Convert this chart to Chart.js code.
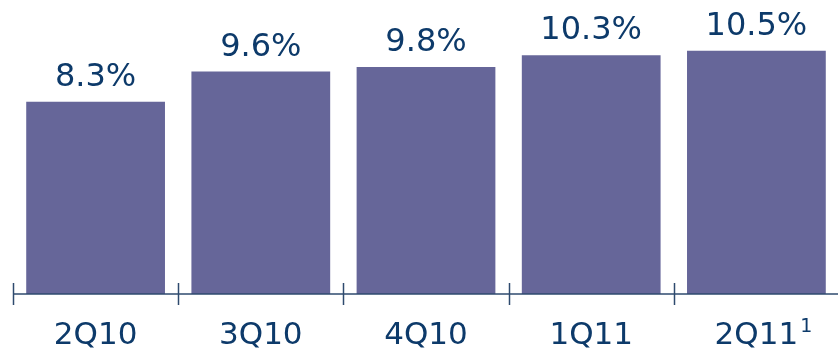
<!DOCTYPE html>
<html><head><meta charset="utf-8">
<script src="https://cdn.jsdelivr.net/npm/chart.js@4"></script>
<style>html,body{margin:0;padding:0;overflow:hidden;background:#fff}#wrap{width:850px;height:352px}</style>
</head><body><div id="wrap"><canvas id="c" width="850" height="352"></canvas></div>
<script>
const categories = ['2Q10', '3Q10', '4Q10', '1Q11', '2Q11'];
const superscripts = ['', '', '', '', '1'];
const values = [8.3, 9.6, 9.8, 10.3, 10.5];
const valueLabels = ['8.3%', '9.6%', '9.8%', '10.3%', '10.5%'];

const FONT = '"DejaVu Sans", Verdana, sans-serif';
const TEXT = '#0d3a6a';
const AXIS = '#2e4a6e';

const deco = {
  id: 'deco',
  afterDatasetsDraw(chart) {
    const ctx = chart.ctx, xs = chart.scales.x, area = chart.chartArea;
    const meta = chart.getDatasetMeta(0);
    ctx.save();
    // value labels
    ctx.fillStyle = TEXT;
    ctx.font = '32px ' + FONT;
    ctx.textAlign = 'center';
    ctx.textBaseline = 'alphabetic';
    meta.data.forEach((bar, i) => {
      ctx.fillText(valueLabels[i], bar.x, bar.y - 16);
    });
    // axis line
    const y0 = area.bottom;
    ctx.strokeStyle = AXIS;
    ctx.lineWidth = 1.5;
    ctx.beginPath();
    ctx.moveTo(area.left, y0);
    ctx.lineTo(area.right, y0);
    ctx.stroke();
    // ticks between categories
    const step = xs.getPixelForValue(1) - xs.getPixelForValue(0);
    for (let i = 0; i <= categories.length; i++) {
      const x = Math.round(xs.getPixelForValue(i) - step / 2) + 0.5;
      ctx.beginPath();
      ctx.moveTo(x, y0 - 11);
      ctx.lineTo(x, y0 + 11);
      ctx.stroke();
    }
    // category labels
    const catFont = '31px ' + FONT;
    ctx.font = catFont;
    categories.forEach((c, i) => {
      const x = xs.getPixelForValue(i);
      ctx.textAlign = 'center';
      ctx.fillText(c, x, 344);
      if (superscripts[i]) {
        const w = ctx.measureText(c).width;
        ctx.font = '19px ' + FONT;
        ctx.textAlign = 'left';
        ctx.fillText(superscripts[i], x + w / 2 + 2, 332);
        ctx.font = catFont;
      }
    });
    ctx.restore();
  }
};

new Chart(document.getElementById('c'), {
  type: 'bar',
  data: {
    labels: categories,
    datasets: [{
      data: values,
      backgroundColor: '#666699',
      borderWidth: 0,
      categoryPercentage: 1.0,
      barPercentage: 0.84
    }]
  },
  options: {
    responsive: false,
    animation: false,
    layout: { padding: { left: 13, right: 11, top: 0, bottom: 58 } },
    plugins: { legend: { display: false }, tooltip: { enabled: false } },
    scales: {
      x: { display: false },
      y: { display: false, min: 0, max: 12.69 }
    }
  },
  plugins: [deco]
});
</script>
</body></html>
